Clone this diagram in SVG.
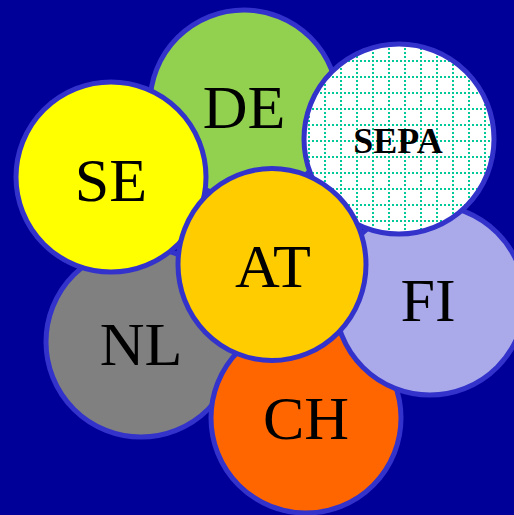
<svg xmlns="http://www.w3.org/2000/svg" width="514" height="515" viewBox="0 0 514 515">
<style>
.c{stroke:#3333cc;stroke-width:5}
.t{font-family:"Liberation Serif","Times New Roman",serif;font-size:62px;fill:#000;text-anchor:middle}
.b{font-weight:bold;font-size:36px}
</style>
<defs>
<pattern id="grid" patternUnits="userSpaceOnUse" x="324" y="60" width="16" height="16">
<rect width="16" height="16" fill="#fff"/>
<g fill="#00c896">
<rect x="0" y="0" width="2" height="2"/><rect x="0" y="4" width="2" height="2"/><rect x="0" y="8" width="2" height="2"/><rect x="0" y="12" width="2" height="2"/>
<rect x="4" y="0" width="2" height="2"/><rect x="8" y="0" width="2" height="2"/><rect x="12" y="0" width="2" height="2"/>
</g>
</pattern>
</defs>
<rect width="514" height="515" fill="#000099"/>
<g id="NL"><circle class="c" cx="141" cy="342" r="95" fill="#808080"/><text class="t" x="141" y="365">NL</text></g>
<g id="CH"><circle class="c" cx="306" cy="418" r="95" fill="#ff6600"/><text class="t" x="306" y="439">CH</text></g>
<g id="FI"><circle class="c" cx="430" cy="300" r="95" fill="#aaaaea"/><text class="t" x="428" y="321">FI</text></g>
<g id="DE"><circle class="c" cx="244" cy="104" r="94" fill="#92d050"/><text class="t" x="244" y="128">DE</text></g>
<g id="SE"><circle class="c" cx="111" cy="177" r="95" fill="#ffff00"/><text class="t" x="111" y="201">SE</text></g>
<g id="SEPA"><circle class="c" cx="399" cy="139" r="95" fill="url(#grid)"/><text class="t b" x="398" y="153">SEPA</text></g>
<g id="AT"><ellipse class="c" cx="272" cy="264.5" rx="94" ry="96" fill="#ffcc00"/><text class="t" x="273" y="287">AT</text></g>
<g id="connectors"/>
</svg>
